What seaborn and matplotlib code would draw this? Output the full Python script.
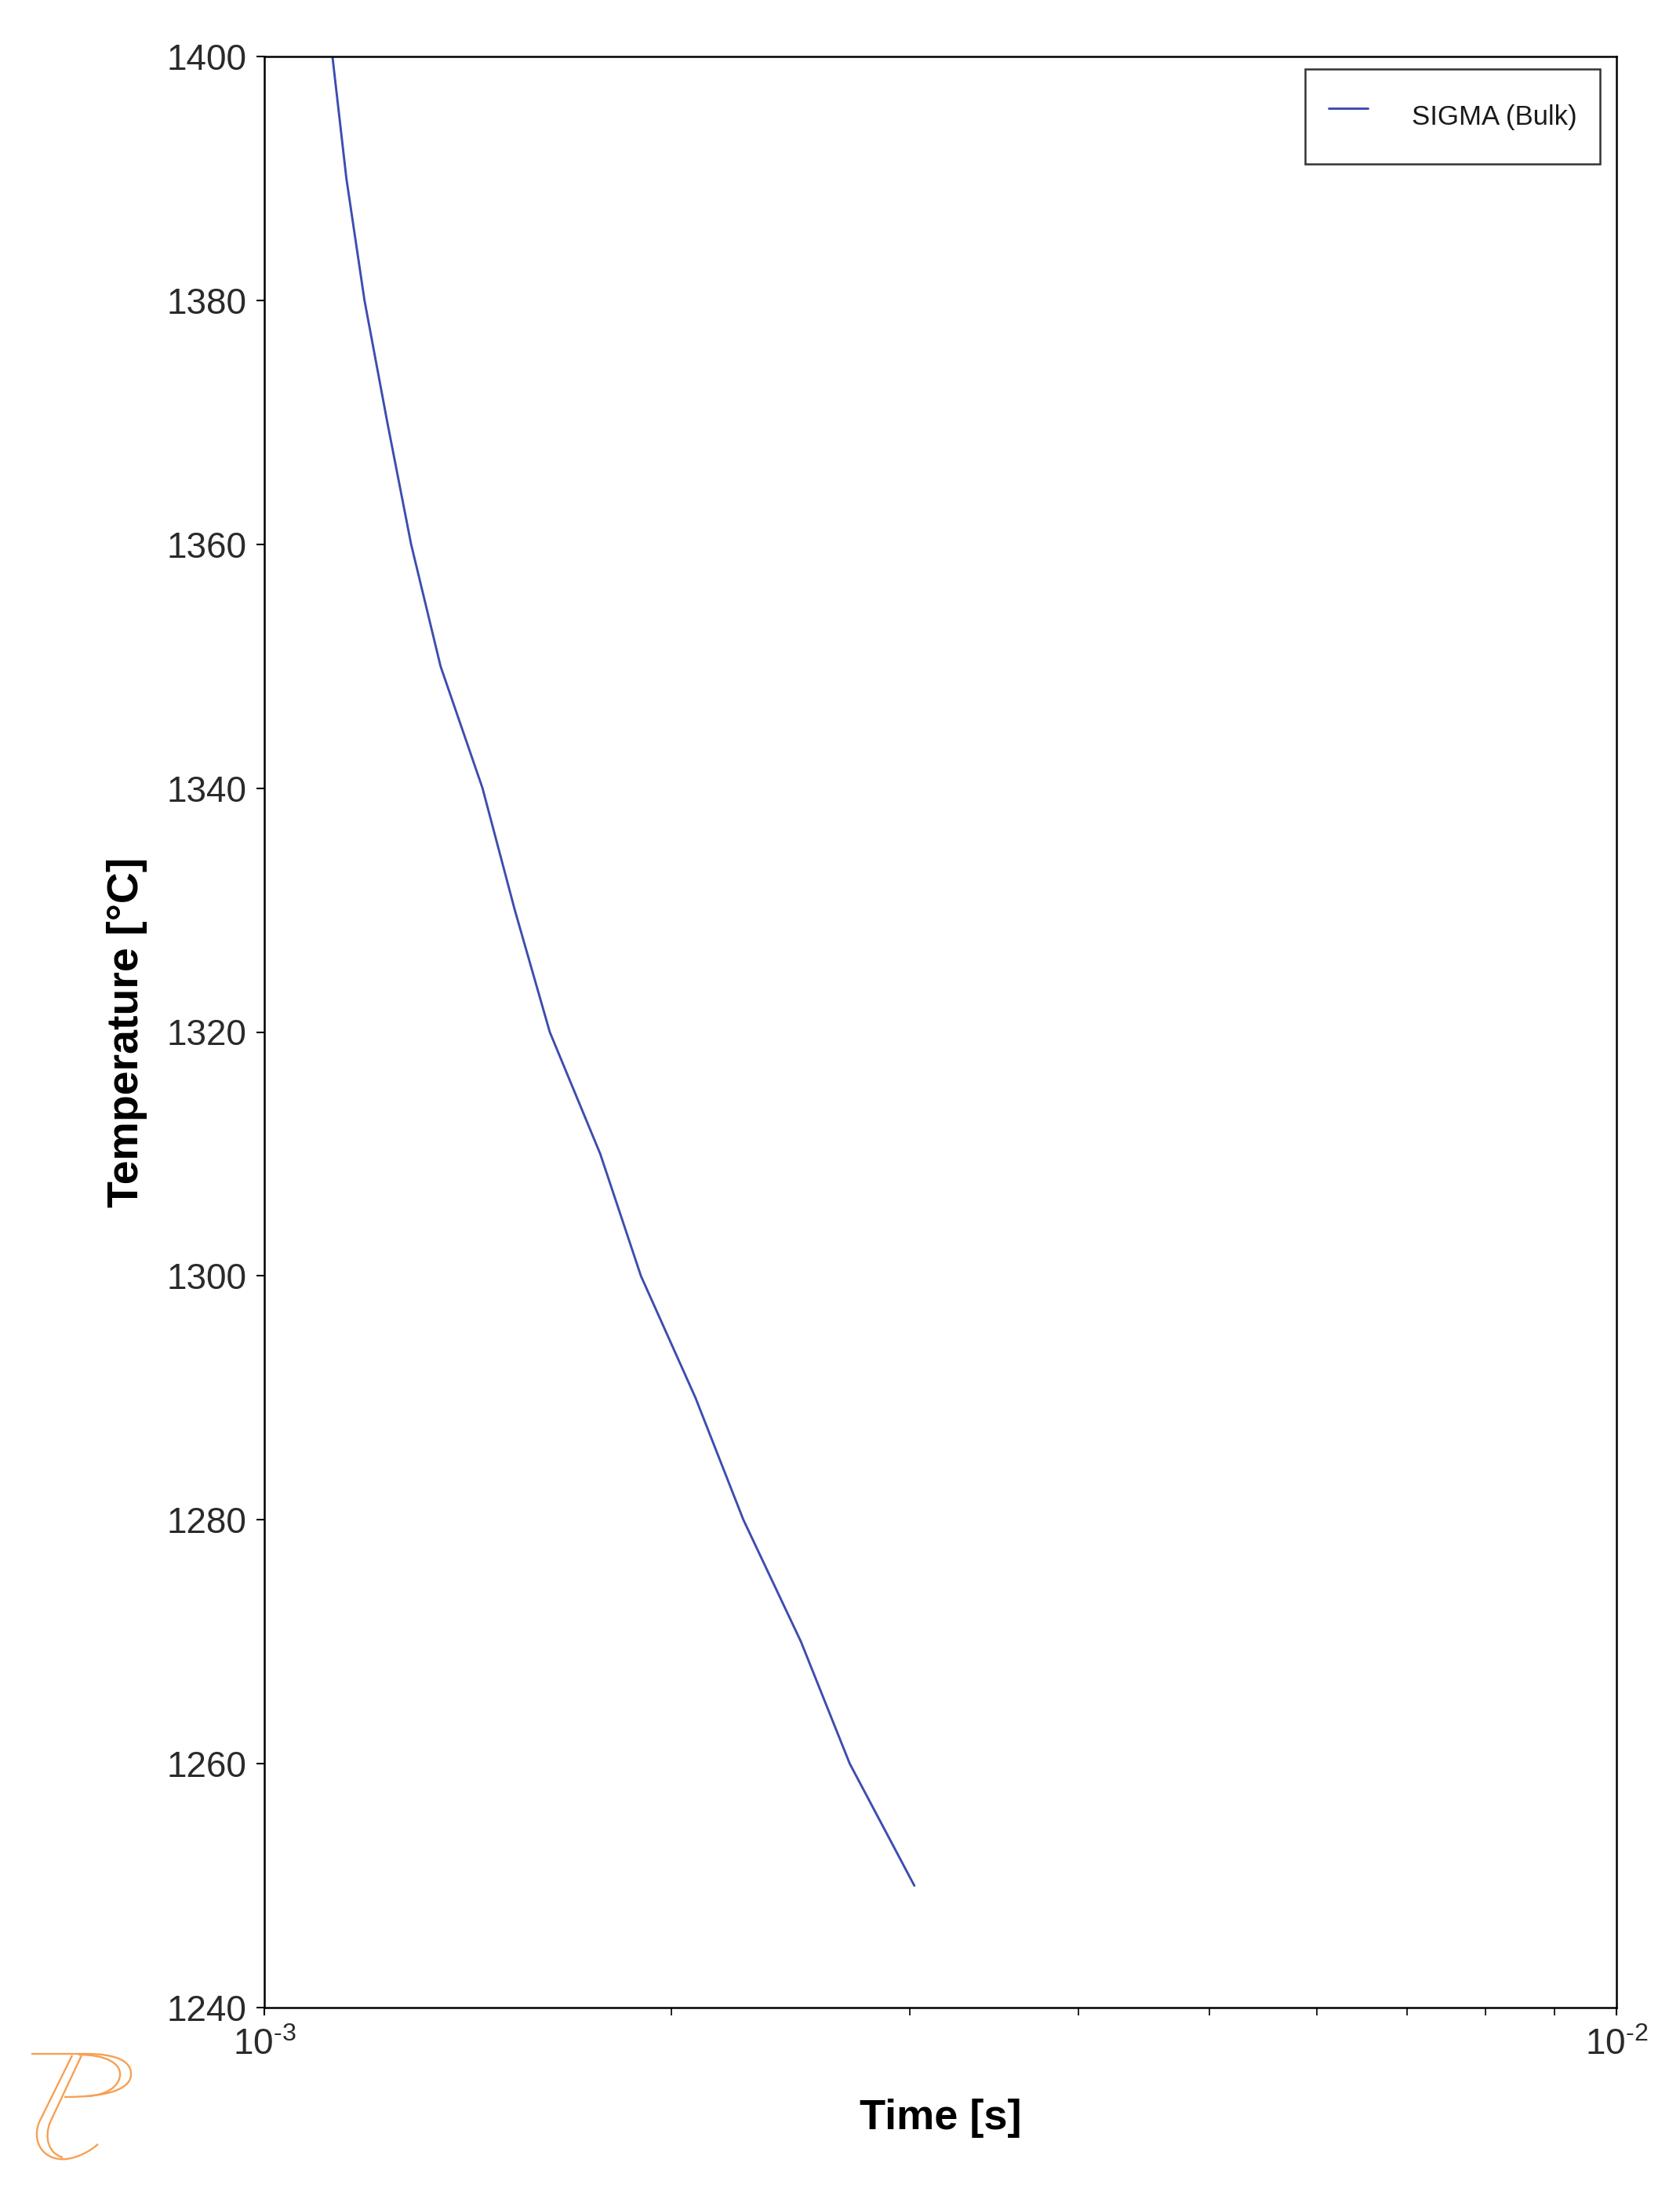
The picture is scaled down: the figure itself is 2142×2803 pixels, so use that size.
import numpy as np
import pandas as pd
import seaborn as sns
import matplotlib
matplotlib.use("Agg")
import matplotlib.pyplot as plt
from matplotlib.path import Path
from matplotlib.patches import PathPatch
from matplotlib.ticker import LogLocator, FixedLocator, FixedFormatter, NullFormatter

# ---- data ----
temperature_c = [1400, 1390, 1380, 1370, 1360, 1350, 1340, 1330, 1320, 1310,
                 1300, 1290, 1280, 1270, 1260, 1250]
time_s = [1.123e-3, 1.150e-3, 1.186e-3, 1.233e-3, 1.284e-3, 1.350e-3, 1.450e-3,
          1.532e-3, 1.626e-3, 1.772e-3, 1.899e-3, 2.084e-3, 2.261e-3, 2.494e-3,
          2.710e-3, 3.025e-3]
series_name = "SIGMA (Bulk)"
y_ticks = [1240, 1260, 1280, 1300, 1320, 1340, 1360, 1380, 1400]
x_ticks = [1e-3, 1e-2]
x_tick_labels = [r"$10^{\text{-}3}$", r"$10^{\text{-}2}$"]
x_label = "Time [s]"
y_label = "Temperature [°C]"

df = pd.DataFrame({"time": time_s, "temp": temperature_c, "series": series_name})

sns.set_theme(style="white")
plt.rcParams["font.family"] = ["Liberation Sans", "DejaVu Sans"]
plt.rcParams["mathtext.fontset"] = "custom"
plt.rcParams["mathtext.rm"] = "Liberation Sans"
plt.rcParams["mathtext.it"] = "Liberation Sans"
plt.rcParams["mathtext.bf"] = "Liberation Sans:bold"
plt.rcParams["mathtext.default"] = "regular"

W, H = 2142, 2803
fig = plt.figure(figsize=(W / 100, H / 100), dpi=100)
fig.patch.set_facecolor("white")
L, R, T, B = 337, 2061, 72, 2559
ax = fig.add_axes([L / W, 1 - B / H, (R - L) / W, (B - T) / H])

sns.lineplot(data=df, x="time", y="temp", hue="series", palette=["#3d4db0"],
             sort=False, estimator=None, linewidth=2.1, ax=ax)

ax.set_xscale("log")
ax.set_xlim(1e-3, 1e-2)
ax.set_ylim(1240, 1400)
ax.xaxis.set_major_locator(FixedLocator(x_ticks))
ax.xaxis.set_major_formatter(FixedFormatter(x_tick_labels))
ax.xaxis.set_minor_locator(LogLocator(base=10, subs=np.arange(2, 10)))
ax.xaxis.set_minor_formatter(NullFormatter())
ax.set_yticks(y_ticks)

for s in ax.spines.values():
    s.set_color("black")
    s.set_linewidth(1.8)
    s.set_visible(True)

ax.tick_params(axis="both", which="major", direction="out", length=7, width=1.5,
               color="black", labelsize=33, labelcolor="#2a2a2a", bottom=True, left=True)
ax.tick_params(axis="x", which="minor", direction="out", length=7, width=1.2,
               color="black", bottom=True)
ax.tick_params(axis="x", which="major", pad=12)
ax.tick_params(axis="y", which="major", pad=9)

ax.set_xlabel(x_label, fontsize=39, fontweight="bold", labelpad=33, color="black")
ax.set_ylabel(y_label, fontsize=40, fontweight="bold", labelpad=18, color="black")

leg = ax.legend(loc="upper right", bbox_to_anchor=((2040 - L) / (R - L), 1 - (88 - T) / (B - T)),
                borderaxespad=0, fontsize=25, frameon=True, fancybox=False,
                handlelength=1.45, handleheight=2.35, handletextpad=1.6, borderpad=0.85,
                title=None)
leg.get_frame().set_edgecolor("black")
leg.get_frame().set_linewidth(1.8)
for t in leg.get_texts():
    t.set_color("#1a1a1a")
for line in leg.get_lines():
    line.set_linewidth(2.1)

# ---- orange logo (decoration) in figure pixel coordinates ----
def draw_path(verts, codes):
    v = [(x / W, 1 - y / H) for x, y in verts]
    fig.add_artist(PathPatch(Path(v, codes), transform=fig.transFigure,
                             fill=False, edgecolor="#f7a052", linewidth=1.7))

M, C4, LT = Path.MOVETO, Path.CURVE4, Path.LINETO
# top bar + outer bowl
draw_path([(40, 2618), (110, 2618), (150, 2618), (168, 2628), (167, 2645),
           (166, 2662), (140, 2673), (82, 2673)],
          [M, LT, C4, C4, C4, C4, C4, C4])
# inner bowl
draw_path([(100, 2619), (135, 2619), (154, 2630), (153, 2645),
           (152, 2660), (135, 2671), (110, 2672)],
          [M, C4, C4, C4, C4, C4, C4])
# outer stem with hook
draw_path([(92, 2620), (50, 2705), (40, 2730), (55, 2755), (85, 2752),
           (100, 2750), (115, 2742), (125, 2733)],
          [M, LT, C4, C4, C4, C4, C4, C4])
# inner stem
draw_path([(104, 2620), (64, 2705), (56, 2725), (62, 2745), (80, 2750)],
          [M, LT, C4, C4, C4])

fig.savefig("out.png", dpi=100, facecolor="white")
